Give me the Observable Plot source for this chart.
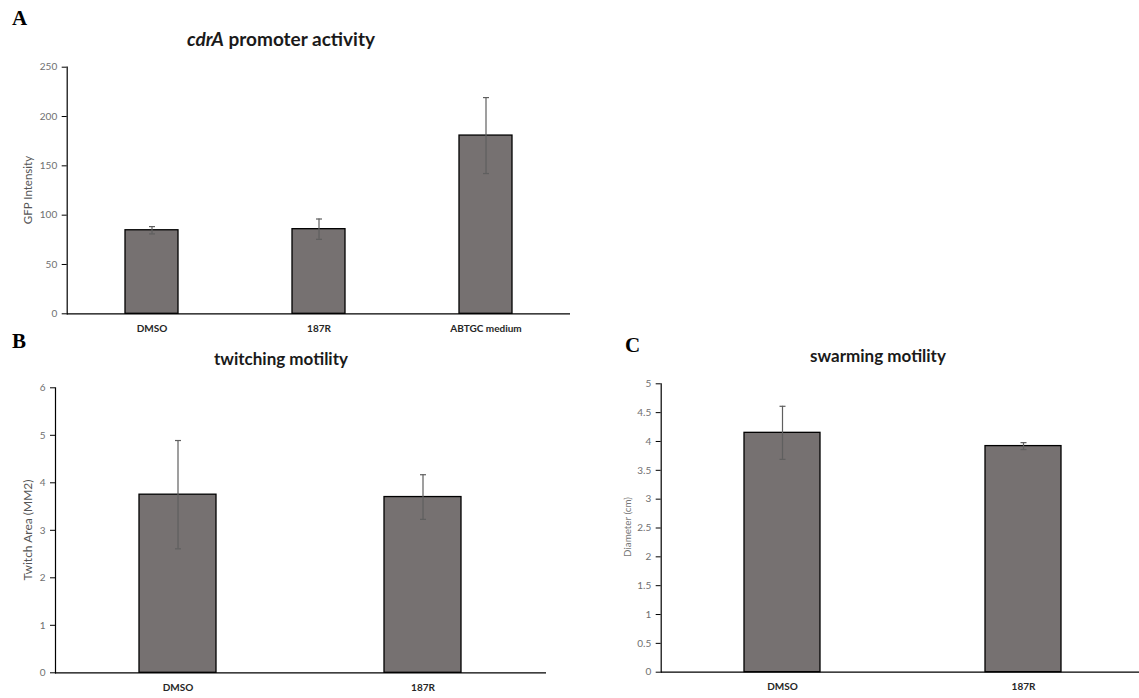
<!DOCTYPE html>
<html>
<head>
<meta charset="utf-8">
<script src="https://cdn.jsdelivr.net/npm/d3@7"></script>
<script src="https://cdn.jsdelivr.net/npm/@observablehq/plot@0.6"></script>
<style>
  html, body { margin: 0; padding: 0; background: #fff; overflow: hidden; }
  #root { position: relative; width: 1139px; height: 698px; overflow: hidden; font-family: Lato, "Open Sans", sans-serif; }
  .panel { position: absolute; }
  .letter { position: absolute; font-family: "Liberation Serif", "DejaVu Serif", serif; font-weight: bold; font-size: 21px; line-height: 21px; color: #000; }
  .title { position: absolute; font-weight: bold; line-height: 1; color: #1a1a1a; transform: translateX(-50%); white-space: nowrap; }
  .ylab { position: absolute; line-height: 12px; color: #555; white-space: nowrap; transform: translate(-50%, -50%) rotate(-90deg); }
</style>
</head>
<body>
<div id="root"></div>
<script>
// ---- Panel A: cdrA promoter activity ----
const catsA = ["DMSO", "187R", "ABTGC medium"];
const meanA = [84.7, 85.8, 180.7];
const errA = [3.7, 10.3, 38.5];
const ticksA = [0, 50, 100, 150, 200, 250];

// ---- Panel B: twitching motility ----
const catsB = ["DMSO", "187R"];
const meanB = [3.75, 3.70];
const errB = [1.14, 0.47];
const ticksB = [0, 1, 2, 3, 4, 5, 6];

// ---- Panel C: swarming motility ----
const catsC = ["DMSO", "187R"];
const meanC = [4.15, 3.92];
const errC = [0.46, 0.06];
const ticksC = [0, 0.5, 1, 1.5, 2, 2.5, 3, 3.5, 4, 4.5, 5];

const root = document.getElementById("root");

// horizontal cap symbol for error bars
const capSymbol = {
  draw(ctx, size) {
    const w = Math.sqrt(size / Math.PI);
    ctx.moveTo(-w, 0);
    ctx.lineTo(w, 0);
  }
};

function makePanel({cats, means, errs, ticks, box, margins}) {
  const data = cats.map((c, i) => ({cat: c, mean: means[i], lo: means[i] - errs[i], hi: means[i] + errs[i]}));
  const chart = Plot.plot({
    width: box.w,
    height: box.h,
    marginLeft: margins[3],
    marginRight: margins[1],
    marginTop: margins[0],
    marginBottom: margins[2],
    style: {background: "transparent", fontFamily: "Lato, 'Open Sans', sans-serif", overflow: "visible"},
    x: {type: "band", domain: cats, paddingInner: 0.685, paddingOuter: 0.3425, label: null},
    y: {domain: [ticks[0], ticks[ticks.length - 1]], label: null},
    marks: [
      Plot.barY(data, {x: "cat", y: "mean", fill: "#767171", stroke: "#000", strokeWidth: 1.3}),
      Plot.ruleX(data, {x: "cat", y1: "lo", y2: "hi", stroke: "#5f5f5f", strokeWidth: 1.2}),
      Plot.dot(data, {x: "cat", y: "lo", symbol: capSymbol, r: 3, fill: "none", stroke: "#5f5f5f", strokeWidth: 1.2}),
      Plot.dot(data, {x: "cat", y: "hi", symbol: capSymbol, r: 3, fill: "none", stroke: "#5f5f5f", strokeWidth: 1.2}),
      Plot.axisY({ticks, tickSize: 5, tickPadding: 5, tickFormat: d => String(d), stroke: "#000", fill: "#6f6f6f", fontSize: 10, label: null}),
      Plot.axisX({tickSize: 0, tickPadding: 11, fontSize: 10, fontWeight: "bold", fill: "#262626", label: null}),
      Plot.frame({anchor: "left", stroke: "#000", strokeWidth: 1.2}),
      Plot.ruleY([0], {stroke: "#000", strokeWidth: 1.3})
    ]
  });
  chart.classList.add("panel");
  chart.style.left = box.x + "px";
  chart.style.top = box.y + "px";
  root.appendChild(chart);
  return chart;
}

function addText(cls, html, x, y, size, color) {
  const d = document.createElement("div");
  d.className = cls;
  d.innerHTML = html;
  d.style.left = x + "px";
  d.style.top = y + "px";
  if (size) d.style.fontSize = size + "px";
  if (color) d.style.color = color;
  root.appendChild(d);
  return d;
}

// Panel A
makePanel({cats: catsA, means: meanA, errs: errA, ticks: ticksA,
  box: {x: 0, y: 0, w: 600, h: 345}, margins: [66.7, 30, 31.7, 66.7]});
// Panel B
makePanel({cats: catsB, means: meanB, errs: errB, ticks: ticksB,
  box: {x: 0, y: 370, w: 600, h: 328}, margins: [17.3, 54, 25.7, 55]});
// Panel C
makePanel({cats: catsC, means: meanC, errs: errC, ticks: ticksC,
  box: {x: 580, y: 370, w: 564, h: 328}, margins: [13.3, 0.3, 26.3, 80.7]});

// Panel letters
addText("letter", "A", 12, 8);
addText("letter", "B", 12, 331);
addText("letter", "C", 625, 335);

// Titles
addText("title", "<i>cdrA</i> promoter activity", 281, 29, 19);
addText("title", "twitching motility", 281, 350, 17);
addText("title", "swarming motility", 878, 347, 17);

// Y-axis labels
addText("ylab", "GFP Intensity", 28, 190, 11.5);
addText("ylab", "Twitch Area (MM2)", 28, 530, 12);
addText("ylab", "Diameter (cm)", 627, 527, 9.8, "#777");
</script>
</body>
</html>
